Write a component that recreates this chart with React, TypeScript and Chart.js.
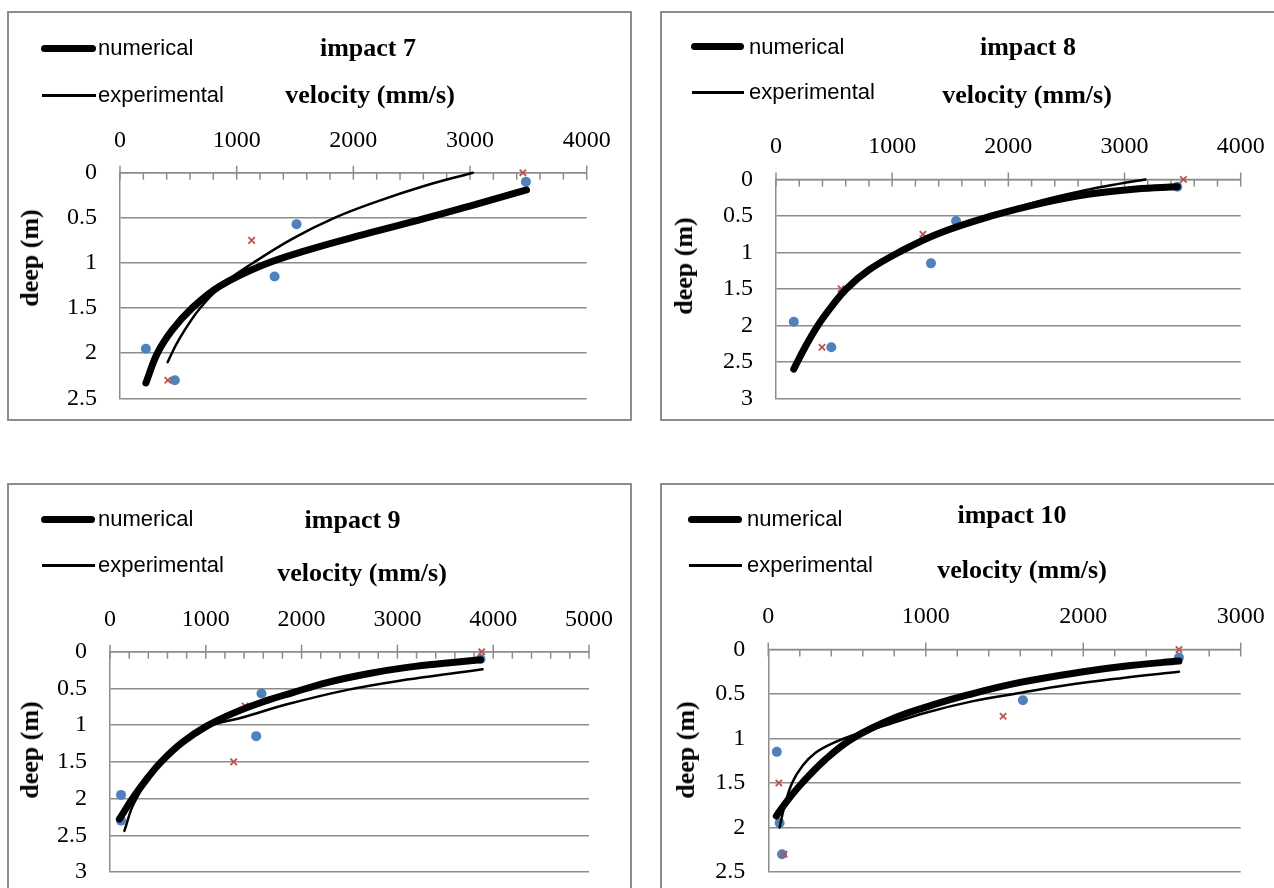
import React, { useEffect, useRef } from "react";
import { Chart, registerables } from "chart.js";

Chart.register(...registerables);

// ---------- data (velocity mm/s, depth m) ----------
// impact 7
const num7V = [222, 321, 450, 617, 850, 1210, 1600, 2100, 2605, 3050, 3484];
const num7D = [2.33, 2.0, 1.74, 1.5, 1.26, 1.03, 0.86, 0.68, 0.51, 0.35, 0.19];
const exp7V = [408, 505, 687, 900, 1140, 1480, 1838, 2200, 2600, 3024];
const exp7D = [2.1, 1.85, 1.5, 1.22, 1.0, 0.73, 0.5, 0.32, 0.15, 0];
const blue7V = [222, 470, 1325, 1513, 3479];
const blue7D = [1.95, 2.3, 1.15, 0.57, 0.1];
const red7V = [410, 1128, 3453];
const red7D = [2.3, 0.75, 0];

// impact 8
const num8V = [153, 250, 361, 480, 605, 800, 1056, 1400, 1856, 2300, 2700, 3100, 3454];
const num8D = [2.6, 2.3, 2.0, 1.74, 1.5, 1.24, 1.0, 0.74, 0.5, 0.32, 0.2, 0.13, 0.1];
const exp8V = [170, 361, 605, 1056, 1400, 1856, 2300, 2650, 2950, 3180];
const exp8D = [2.55, 2.0, 1.5, 1.0, 0.74, 0.49, 0.28, 0.15, 0.06, 0];
const blue8V = [153, 476, 1334, 1550, 3454];
const blue8D = [1.95, 2.3, 1.15, 0.57, 0.1];
const red8V = [396, 560, 1265, 3507];
const red8D = [2.3, 1.5, 0.75, 0];

// impact 9
const num9V = [98, 235, 380, 534, 750, 1000, 1300, 1650, 1900, 2265, 2692, 3120, 3547, 3868];
const num9D = [2.28, 2.0, 1.74, 1.5, 1.24, 1.02, 0.83, 0.66, 0.56, 0.42, 0.3, 0.21, 0.15, 0.11];
const exp9V = [150, 256, 534, 1000, 1400, 1838, 2479, 3100, 3600, 3889];
const exp9D = [2.44, 2.05, 1.5, 1.04, 0.89, 0.72, 0.52, 0.38, 0.29, 0.24];
const blue9V = [115, 115, 1526, 1581, 3868];
const blue9D = [1.95, 2.3, 1.15, 0.57, 0.1];
const red9V = [1410, 1291, 3880];
const red9D = [0.74, 1.5, 0];

// impact 10
const num10V = [51, 120, 215, 360, 535, 800, 1050, 1266, 1600, 2000, 2300, 2608];
const num10D = [1.87, 1.7, 1.5, 1.24, 1.0, 0.77, 0.62, 0.51, 0.37, 0.25, 0.18, 0.13];
const exp10V = [72, 100, 151, 220, 300, 400, 560, 728, 1000, 1300, 1560, 1900, 2250, 2608];
const exp10D = [2.0, 1.78, 1.5, 1.3, 1.16, 1.06, 0.95, 0.86, 0.71, 0.58, 0.5, 0.4, 0.32, 0.25];
const blue10V = [54, 72, 87, 1617, 2608];
const blue10D = [1.15, 1.95, 2.3, 0.57, 0.09];
const red10V = [67, 1491, 100, 2608];
const red10D = [1.5, 0.75, 2.3, 0];

const seriesLabels = ["numerical", "experimental"];
const xAxisTitle = "velocity (mm/s)";
const yAxisTitle = "deep (m)";

// ---------- styles / layout ----------
const SERIF = "'Liberation Serif', 'Times New Roman', serif";
const SANS = "'Liberation Sans', Arial, sans-serif";
const GRID = "#8c8c8c";
const BLUE = "#4f81bd";
const RED = "#c0504d";

type Panel = {
  title: string;
  numV: number[]; numD: number[]; expV: number[]; expD: number[];
  blueV: number[]; blueD: number[]; redV: number[]; redD: number[];
  xMax: number; yMax: number;
  q: { left: number; top: number; w: number; h: number };
  plot: { l: number; r: number; t: number; b: number };
  border: { left: number; top: number; w: number; h: number };
  leg: { x1: number; x2: number; tx: number; y1: number; y2: number };
  titlePos: [number, number];
  velPos: [number, number];
  deepPos: [number, number];
};

const PANELS: Panel[] = [
  {
    title: "impact 7",
    numV: num7V, numD: num7D, expV: exp7V, expD: exp7D,
    blueV: blue7V, blueD: blue7D, redV: red7V, redD: red7D,
    xMax: 4000, yMax: 2.5,
    q: { left: 0, top: 0, w: 648, h: 444 },
    plot: { l: 120, r: 586.7, t: 172.7, b: 398.3 },
    border: { left: 7, top: 11, w: 625, h: 410 },
    leg: { x1: 41, x2: 96, tx: 98, y1: 48, y2: 95 },
    titlePos: [368, 48], velPos: [370, 95], deepPos: [29.5, 258],
  },
  {
    title: "impact 8",
    numV: num8V, numD: num8D, expV: exp8V, expD: exp8D,
    blueV: blue8V, blueD: blue8D, redV: red8V, redD: red8D,
    xMax: 4000, yMax: 3,
    q: { left: 648, top: 0, w: 626, h: 444 },
    plot: { l: 776, r: 1240.7, t: 179.5, b: 398.3 },
    border: { left: 660, top: 11, w: 700, h: 410 },
    leg: { x1: 691, x2: 744, tx: 749, y1: 46.7, y2: 92 },
    titlePos: [1028, 46.7], velPos: [1027, 95], deepPos: [684, 266],
  },
  {
    title: "impact 9",
    numV: num9V, numD: num9D, expV: exp9V, expD: exp9D,
    blueV: blue9V, blueD: blue9D, redV: red9V, redD: red9D,
    xMax: 5000, yMax: 3,
    q: { left: 0, top: 444, w: 648, h: 444 },
    plot: { l: 110, r: 589, t: 651.7, b: 872 },
    border: { left: 7, top: 483, w: 625, h: 500 },
    leg: { x1: 41, x2: 95, tx: 98, y1: 519.3, y2: 565 },
    titlePos: [352.6, 520], velPos: [362, 573], deepPos: [29.5, 750],
  },
  {
    title: "impact 10",
    numV: num10V, numD: num10D, expV: exp10V, expD: exp10D,
    blueV: blue10V, blueD: blue10D, redV: red10V, redD: red10D,
    xMax: 3000, yMax: 2.5,
    q: { left: 648, top: 444, w: 626, h: 444 },
    plot: { l: 768.3, r: 1240.7, t: 649.5, b: 872 },
    border: { left: 660, top: 483, w: 700, h: 500 },
    leg: { x1: 688, x2: 742, tx: 747, y1: 519.3, y2: 565 },
    titlePos: [1012, 515], velPos: [1022, 570], deepPos: [686, 750],
  },
];

const pts = (xs: number[], ys: number[]) => xs.map((x, i) => ({ x, y: ys[i] }));

const topAxisTicks = {
  id: "topAxisTicks",
  beforeDatasetsDraw(chart: any) {
    const xs = chart.scales.x;
    const { left, right, top } = chart.chartArea;
    const ctx = chart.ctx;
    ctx.save();
    ctx.strokeStyle = GRID;
    ctx.lineWidth = 1.5;
    ctx.beginPath();
    ctx.moveTo(left, top);
    ctx.lineTo(right, top);
    ctx.stroke();
    for (let v = xs.min; v <= xs.max + 1e-6; v += 200) {
      const px = xs.getPixelForValue(v);
      const major = Math.abs(v % 1000) < 1e-6;
      ctx.beginPath();
      ctx.moveTo(px, major ? top - 7 : top);
      ctx.lineTo(px, top + 7);
      ctx.stroke();
    }
    ctx.restore();
  },
};

const zeroPad = (s: any) => {
  s.paddingTop = 0;
  s.paddingBottom = 0;
  s.paddingLeft = 0;
  s.paddingRight = 0;
};

function PanelChart({ p }: { p: Panel }) {
  const ref = useRef<HTMLCanvasElement | null>(null);
  useEffect(() => {
    if (!ref.current) return;
    const yW = p.plot.l - p.q.left;
    const xH = p.plot.t - p.q.top;
    const padR = p.q.left + p.q.w - p.plot.r;
    const padB = p.q.top + p.q.h - p.plot.b;
    const chart = new Chart(ref.current, {
      type: "line",
      data: {
        datasets: [
          {
            label: seriesLabels[0],
            data: pts(p.numV, p.numD),
            borderColor: "#000",
            borderWidth: 7,
            borderCapStyle: "round",
            borderJoinStyle: "round",
            pointRadius: 0,
            tension: 0.4,
            fill: false,
            clip: false,
          } as any,
          {
            label: seriesLabels[1],
            data: pts(p.expV, p.expD),
            borderColor: "#000",
            borderWidth: 2.5,
            borderCapStyle: "round",
            borderJoinStyle: "round",
            pointRadius: 0,
            tension: 0.4,
            fill: false,
            clip: false,
          } as any,
          {
            label: "x",
            data: pts(p.redV, p.redD),
            showLine: false,
            pointStyle: "crossRot",
            pointRadius: 4.5,
            borderColor: RED,
            backgroundColor: RED,
            pointBorderWidth: 1.8,
            clip: false,
          } as any,
          {
            label: "o",
            data: pts(p.blueV, p.blueD),
            showLine: false,
            pointStyle: "circle",
            pointRadius: 5,
            borderColor: BLUE,
            backgroundColor: BLUE,
            pointBorderWidth: 0,
            clip: false,
          } as any,
        ],
      },
      options: {
        animation: false,
        responsive: false,
        devicePixelRatio: 1,
        layout: { padding: { left: 0, top: 0, right: padR, bottom: padB } },
        plugins: { legend: { display: false }, tooltip: { enabled: false }, title: { display: false } },
        scales: {
          x: {
            type: "linear",
            position: "top",
            min: 0,
            max: p.xMax,
            grid: { display: false, drawTicks: false },
            border: { display: false },
            ticks: {
              stepSize: 1000,
              padding: 18,
              color: "#000",
              font: { family: SERIF, size: 24 },
              callback: (v: any) => String(v),
              maxRotation: 0,
            },
            afterFit: (s: any) => { s.height = xH; zeroPad(s); },
          },
          y: {
            type: "linear",
            reverse: true,
            min: 0,
            max: p.yMax,
            grid: { color: GRID, lineWidth: 1.5, drawTicks: false },
            border: { display: true, color: GRID, width: 1.5 },
            ticks: {
              stepSize: 0.5,
              padding: 23,
              color: "#000",
              font: { family: SERIF, size: 24 },
              callback: (v: any) => String(v),
            },
            afterFit: (s: any) => { s.width = yW; zeroPad(s); },
          },
        },
      } as any,
      plugins: [topAxisTicks],
    });
    return () => chart.destroy();
  }, [p]);
  return (
    <canvas
      ref={ref}
      width={p.q.w}
      height={p.q.h}
      style={{ position: "absolute", left: p.q.left, top: p.q.top, width: p.q.w, height: p.q.h }}
    />
  );
}

function Overlay({ p }: { p: Panel }) {
  const center = (x: number, y: number): React.CSSProperties => ({
    position: "absolute", left: x, top: y, transform: "translate(-50%, -50%)", whiteSpace: "nowrap", lineHeight: 1,
  });
  return (
    <>
      <div style={{ position: "absolute", left: p.leg.x1, top: p.leg.y1 - 3.5, width: p.leg.x2 - p.leg.x1, height: 7, borderRadius: 3.5, background: "#000" }} />
      <div style={{ position: "absolute", left: p.leg.x1 + 1, top: p.leg.y2 - 1.5, width: p.leg.x2 - p.leg.x1 - 1, height: 3, background: "#000" }} />
      <div style={{ position: "absolute", left: p.leg.tx, top: p.leg.y1, transform: "translateY(-50%)", font: `22px ${SANS}`, lineHeight: 1, whiteSpace: "nowrap" }}>{seriesLabels[0]}</div>
      <div style={{ position: "absolute", left: p.leg.tx, top: p.leg.y2, transform: "translateY(-50%)", font: `22px ${SANS}`, lineHeight: 1, whiteSpace: "nowrap" }}>{seriesLabels[1]}</div>
      <div style={{ ...center(p.titlePos[0], p.titlePos[1]), font: `bold 26px ${SERIF}` }}>{p.title}</div>
      <div style={{ ...center(p.velPos[0], p.velPos[1]), font: `bold 26px ${SERIF}` }}>{xAxisTitle}</div>
      <div style={{ ...center(p.deepPos[0], p.deepPos[1]), font: `bold 26px ${SERIF}`, transform: "translate(-50%, -50%) rotate(-90deg)" }}>{yAxisTitle}</div>
    </>
  );
}

export default function App() {
  return (
    <div style={{ position: "fixed", left: 0, top: 0, width: 1274, height: 888, overflow: "hidden", background: "#fff" }}>
      {PANELS.map((p, i) => (
        <div key={"b" + i} style={{ position: "absolute", left: p.border.left, top: p.border.top, width: p.border.w, height: p.border.h, border: `2px solid ${GRID}`, boxSizing: "border-box" }} />
      ))}
      {PANELS.map((p, i) => (
        <PanelChart key={"c" + i} p={p} />
      ))}
      {PANELS.map((p, i) => (
        <Overlay key={"o" + i} p={p} />
      ))}
    </div>
  );
}
